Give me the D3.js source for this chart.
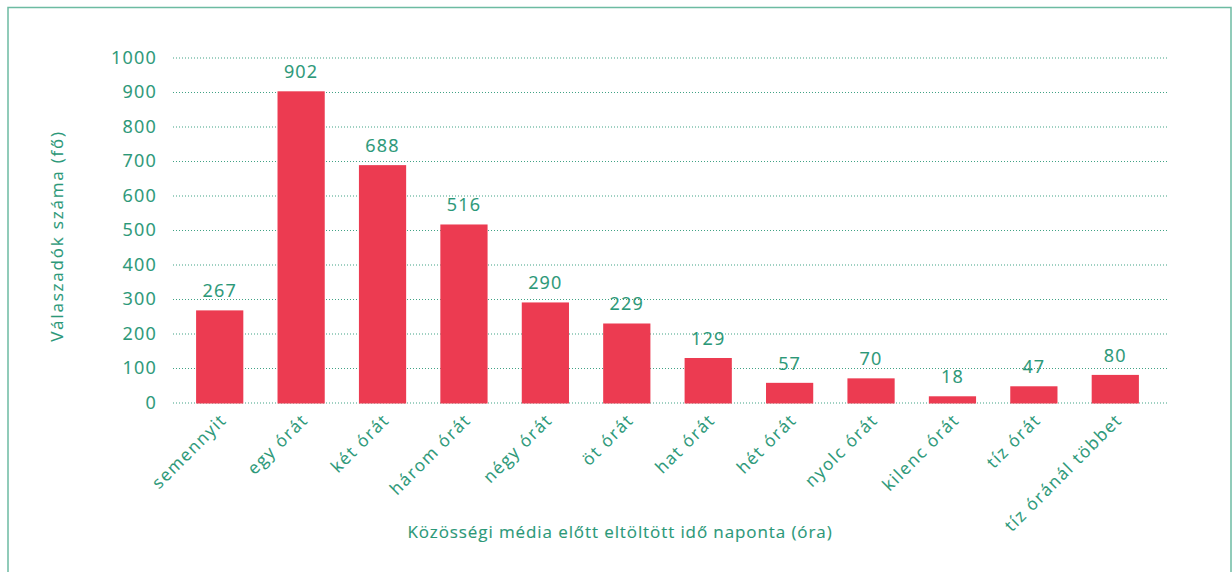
<!DOCTYPE html>
<html>
<head>
<meta charset="utf-8">
<script src="https://cdn.jsdelivr.net/npm/d3@7"></script>
<style>
  body { margin: 0; background: #fff; }
  text { font-family: "Open Sans", sans-serif; stroke: #2b9878; stroke-width: 0.12px; }
</style>
</head>
<body>
<div id="container"></div>
<script>
// data
let categories = ["semennyit", "egy órát", "két órát", "három órát", "négy órát", "öt órát",
  "hat órát", "hét órát", "nyolc órát", "kilenc órát", "tíz órát", "tíz óránál többet"];
let values = [267, 902, 688, 516, 290, 229, 129, 57, 70, 18, 47, 80];
let yTicks = [0, 100, 200, 300, 400, 500, 600, 700, 800, 900, 1000];

let w = 1232;
let h = 572;
let teal = "#2b9878";
let red = "#ec3b51";

let viz = d3.select("#container")
  .append("svg")
    .attr("width", w)
    .attr("height", h)
;

// outer frame (bottom runs off the picture)
viz.append("rect")
  .attr("x", 8)
  .attr("y", 7.5)
  .attr("width", 1223)
  .attr("height", 620)
  .attr("fill", "none")
  .attr("stroke", "#6dbba2")
  .attr("stroke-width", 1.5)
;

let xScale = d3.scaleBand().domain(categories).range([179, 1156]).paddingInner(0.42).paddingOuter(0.21);
let yScale = d3.scaleLinear().domain([0, 1000]).range([402.5, 57.5]);

// dotted gridlines + y labels
let yAxis = d3.axisLeft(yScale)
  .tickValues(yTicks)
  .tickFormat(d3.format("d"))
  .tickSize(-(1169 - 173))
  .tickPadding(16)
;
let yAxisGroup = viz.append("g")
  .attr("transform", "translate(173, 0)")
  .call(yAxis)
;
yAxisGroup.select(".domain").remove();
yAxisGroup.selectAll(".tick line")
  .attr("stroke", teal)
  .attr("stroke-dasharray", "1,2")
  .attr("stroke-opacity", 0.9)
;
yAxisGroup.selectAll(".tick text")
  .attr("fill", teal)
  .attr("font-size", 18)
  .style("font-family", "'Open Sans', sans-serif")
  .attr("letter-spacing", "1.2px")
;

// bars
viz.selectAll(".bar").data(values).enter()
  .append("rect")
    .attr("class", "bar")
    .attr("x", function(d, i){ return xScale(categories[i]); })
    .attr("y", function(d){ return yScale(d); })
    .attr("width", xScale.bandwidth())
    .attr("height", function(d){ return yScale(0) + 1 - yScale(d); })
    .attr("fill", red)
;

// value labels
viz.selectAll(".val").data(values).enter()
  .append("text")
    .attr("class", "val")
    .text(function(d){ return d; })
    .attr("x", function(d, i){ return xScale(categories[i]) + xScale.bandwidth() / 2; })
    .attr("y", function(d){ return yScale(d) - 13; })
    .attr("text-anchor", "middle")
    .attr("font-size", 18)
    .attr("letter-spacing", "1.2px")
    .attr("fill", teal)
;

// rotated category labels
viz.selectAll(".cat").data(categories).enter()
  .append("text")
    .attr("class", "cat")
    .text(function(d){ return d; })
    .attr("transform", function(d){
      let x = xScale(d) + xScale.bandwidth() / 2 + 8;
      return "translate(" + x + ", 421) rotate(-45)";
    })
    .attr("text-anchor", "end")
    .attr("font-size", 17)
    .attr("letter-spacing", "1.6px")
    .attr("fill", teal)
;

// axis titles
viz.append("text")
  .text("Válaszadók száma (fő)")
  .attr("transform", "translate(63, 236) rotate(-90)")
  .attr("text-anchor", "middle")
  .attr("font-size", 17)
  .attr("letter-spacing", "1.8px")
  .attr("fill", teal)
;

viz.append("text")
  .text("Közösségi média előtt eltöltött idő naponta (óra)")
  .attr("x", 620)
  .attr("y", 538)
  .attr("text-anchor", "middle")
  .attr("font-size", 17)
  .attr("letter-spacing", "0.9px")
  .attr("fill", teal)
;
</script>
</body>
</html>
